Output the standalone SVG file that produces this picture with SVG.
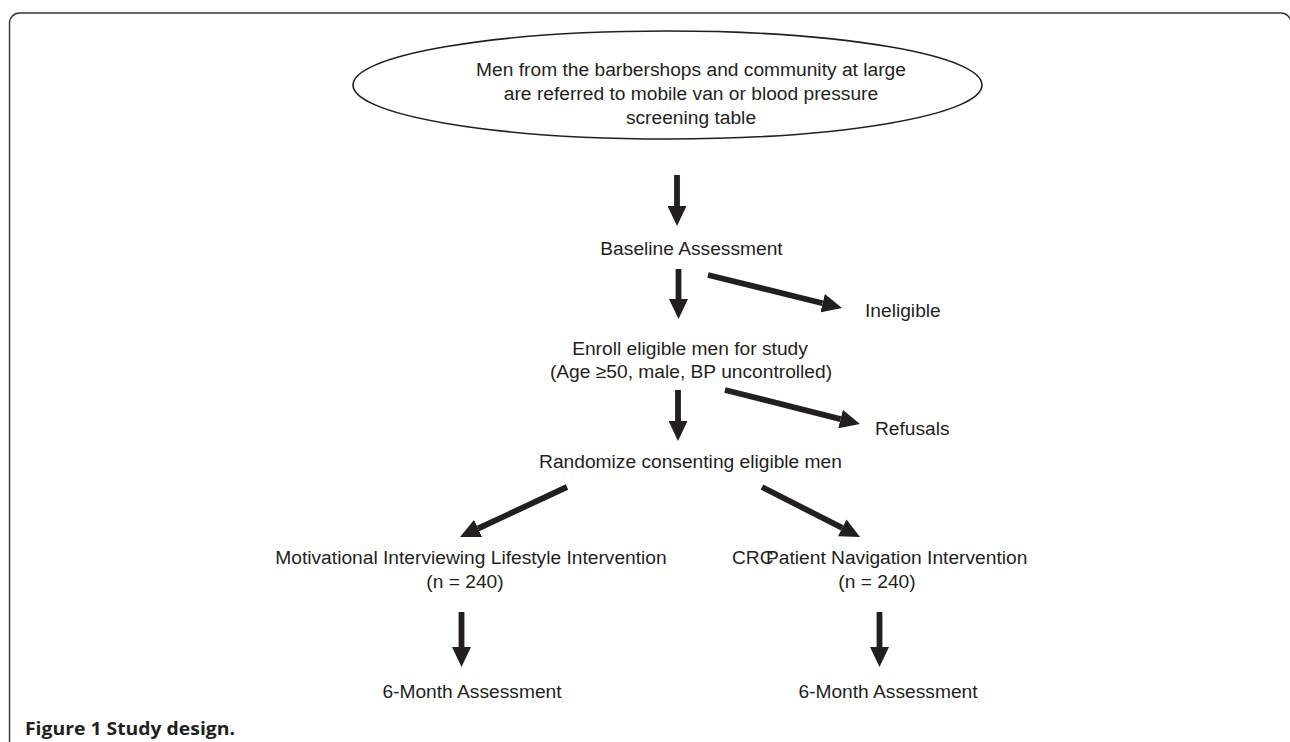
<svg xmlns="http://www.w3.org/2000/svg" width="1290" height="742" viewBox="0 0 1290 742">
<style>
.t{font-family:"Liberation Sans",Arial,sans-serif;font-size:19.2px;fill:#231f20}
.m{text-anchor:middle}
.cap{font-family:"Open Sans","Noto Sans",sans-serif;font-size:18.5px;font-weight:bold;fill:#231f20}
.arr{stroke:#231f20;stroke-width:5.8;fill:none;marker-end:url(#ah)}
</style>
<defs>
<marker id="ah" markerUnits="userSpaceOnUse" markerWidth="20" markerHeight="19" viewBox="0 0 20 19" refX="0" refY="9.5" orient="auto">
<path d="M0,0 L20,9.5 L0,19 z" fill="#231f20"/>
</marker>
</defs>
<rect width="1290" height="742" fill="#fff"/>
<path d="M9.5,742 V23 A10,10 0 0 1 19.5,13 H1281 A10,10 0 0 1 1291,23" fill="none" stroke="#333" stroke-width="1.4"/>
<g id="node-start">
<ellipse cx="667.5" cy="85" rx="314.5" ry="54" fill="none" stroke="#231f20" stroke-width="1.6"/>
<text class="t m" x="691" y="76">Men from the barbershops and community at large</text>
<text class="t m" x="691" y="100">are referred to mobile van or blood pressure</text>
<text class="t m" x="691" y="124">screening table</text>
</g>
<g id="node-baseline"><text class="t m" x="691.5" y="255">Baseline Assessment</text></g>
<g id="node-ineligible"><text class="t" x="865" y="317">Ineligible</text></g>
<g id="node-enroll">
<text class="t m" x="690" y="355">Enroll eligible men for study</text>
<text class="t m" x="691" y="378">(Age ≥50, male, BP uncontrolled)</text>
</g>
<g id="node-refusals"><text class="t" x="875" y="435">Refusals</text></g>
<g id="node-randomize"><text class="t m" x="690.5" y="468">Randomize consenting eligible men</text></g>
<g id="node-mi">
<text class="t m" x="471" y="564">Motivational Interviewing Lifestyle Intervention</text>
<text class="t m" x="465" y="588">(n = 240)</text>
</g>
<g id="node-crc">
<text class="t" x="732" y="564">CRC</text>
<text class="t" x="766" y="564">Patient Navigation Intervention</text>
<text class="t m" x="877" y="588">(n = 240)</text>
</g>
<g id="node-6m-left"><text class="t m" x="472" y="698">6-Month Assessment</text></g>
<g id="node-6m-right"><text class="t m" x="888" y="698">6-Month Assessment</text></g>
<g id="connectors">
<line class="arr" x1="677" y1="175" x2="677" y2="206"/>
<line class="arr" x1="678.5" y1="269" x2="678.5" y2="299"/>
<line class="arr" x1="678" y1="390" x2="678" y2="421"/>
<line class="arr" x1="708" y1="275" x2="822.6" y2="303.2"/>
<line class="arr" x1="725" y1="390" x2="840.6" y2="419.1"/>
<line class="arr" x1="567" y1="487" x2="478.1" y2="528.5"/>
<line class="arr" x1="762" y1="487" x2="842.2" y2="527.9"/>
<line class="arr" x1="461.5" y1="612" x2="461.5" y2="647"/>
<line class="arr" x1="879.5" y1="612" x2="879.5" y2="647"/>
</g>
<text class="cap" x="25" y="735" textLength="210" lengthAdjust="spacingAndGlyphs">Figure 1 Study design.</text>
</svg>
